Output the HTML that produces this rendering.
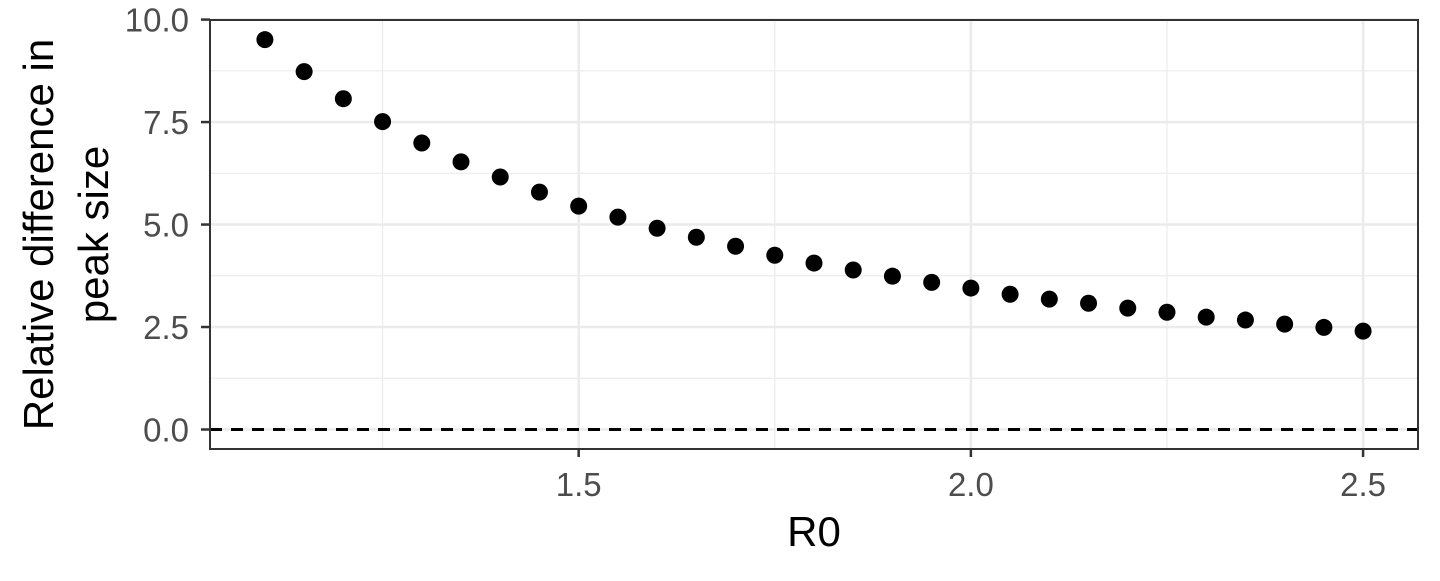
<!DOCTYPE html>
<html><head><meta charset="utf-8"><style>
html,body{margin:0;padding:0;background:#fff;}
svg text{font-family:"Liberation Sans",Arial,sans-serif;}
</style></head><body>
<svg id="chart" width="1440" height="576" xmlns="http://www.w3.org/2000/svg"></svg>
<script>
const r0Values=[1.1,1.15,1.2,1.25,1.3,1.35,1.4,1.45,1.5,1.55,1.6,1.65,1.7,1.75,1.8,1.85,1.9,1.95,2.0,2.05,2.1,2.15,2.2,2.25,2.3,2.35,2.4,2.45,2.5];
const peakDiff=[9.51,8.73,8.07,7.51,6.99,6.53,6.16,5.79,5.45,5.18,4.91,4.69,4.47,4.25,4.06,3.89,3.74,3.59,3.45,3.30,3.18,3.08,2.96,2.86,2.74,2.67,2.57,2.49,2.40];
const xTicks=[1.5,2.0,2.5];
const xMinor=[1.25,1.75,2.25];
const yTicks=[0,2.5,5,7.5,10];
const yTickLabels=["0.0","2.5","5.0","7.5","10.0"];
const yMinor=[1.25,3.75,6.25,8.75];

const NS="http://www.w3.org/2000/svg";
const svg=document.getElementById('chart');
const L=210,R=1418,T=20,B=449;
const xd=[1.03,2.57], yd=[-0.476,9.99];
const xs=v=>L+(v-xd[0])/(xd[1]-xd[0])*(R-L);
const ys=v=>B-(v-yd[0])/(yd[1]-yd[0])*(B-T);
function el(tag,attrs,parent){const e=document.createElementNS(NS,tag);for(const k in attrs)e.setAttribute(k,attrs[k]);(parent||svg).appendChild(e);return e;}

const grid=el('g',{});


xMinor.forEach(v=>el('line',{x1:xs(v),x2:xs(v),y1:T,y2:B,stroke:'#ebebeb','stroke-width':1.2},grid));
yMinor.forEach(v=>el('line',{x1:L,x2:R,y1:ys(v),y2:ys(v),stroke:'#ebebeb','stroke-width':1.2},grid));
xTicks.forEach(v=>el('line',{x1:xs(v),x2:xs(v),y1:T,y2:B,stroke:'#ebebeb','stroke-width':2.5},grid));
yTicks.forEach(v=>el('line',{x1:L,x2:R,y1:ys(v),y2:ys(v),stroke:'#ebebeb','stroke-width':2.5},grid));

const ref=el('line',{x1:L,x2:R,y1:ys(0),y2:ys(0),stroke:'#000','stroke-width':3,'stroke-dasharray':'12,9'});



const pts=el('g',{});


r0Values.forEach((x,i)=>{
  const c=el('circle',{cx:xs(x),cy:ys(peakDiff[i]),r:8.5,fill:'#000'},pts);
  
  
});

const frame=el('rect',{x:L,y:T,width:R-L,height:B-T,fill:'none',stroke:'#333','stroke-width':2});



const xa=el('g',{});


xTicks.forEach(v=>{
  el('line',{x1:xs(v),x2:xs(v),y1:B,y2:B+8,stroke:'#333','stroke-width':2.5},xa);
  const t=el('text',{x:xs(v),y:496,'text-anchor':'middle','font-size':33,fill:'#4d4d4d'},xa);
  t.textContent=v.toFixed(1);
});
const ya=el('g',{});


yTicks.forEach((v,i)=>{
  el('line',{x1:L-9,x2:L,y1:ys(v),y2:ys(v),stroke:'#333','stroke-width':2.5},ya);
  const t=el('text',{x:189,y:ys(v)+12,'text-anchor':'end','font-size':33,fill:'#4d4d4d'},ya);
  t.textContent=yTickLabels[i];
});
const xt=el('text',{x:(L+R)/2,y:546,'text-anchor':'middle','font-size':42,fill:'#000'});


xt.textContent='R0';
const yt=el('text',{'text-anchor':'middle','font-size':42,fill:'#000'});


const cy=(T+B)/2;
const t1=el('tspan',{x:0,y:0},yt);t1.textContent='Relative difference in';
const t2=el('tspan',{x:0,y:55},yt);t2.textContent='peak size';
yt.setAttribute('transform',`translate(53,${cy}) rotate(-90)`);
</script>
</body></html>
